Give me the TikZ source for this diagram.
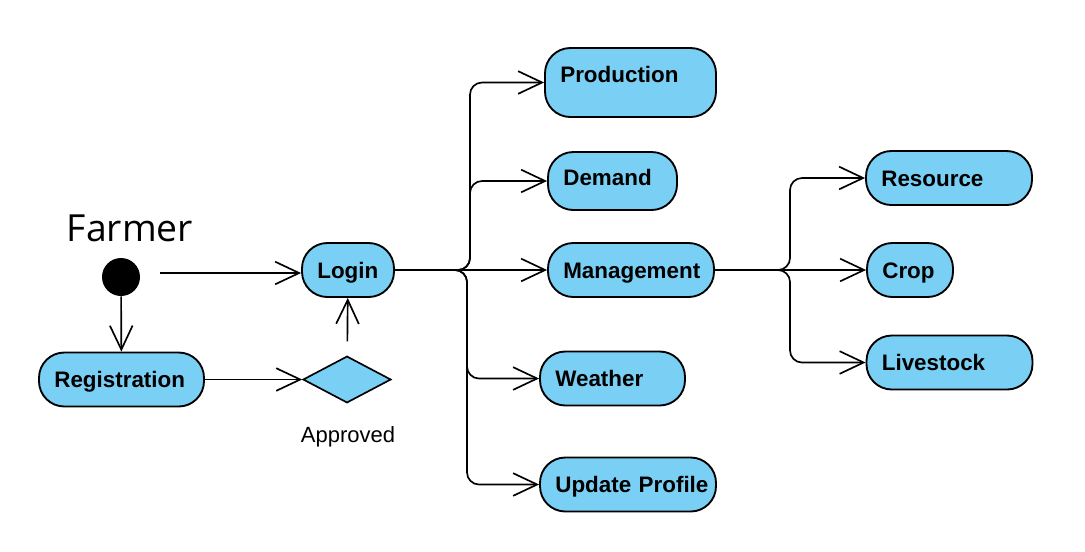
\documentclass[tikz,border=0pt]{standalone}
\usepackage{fontspec}
\setmainfont{Liberation Sans}
\newfontfamily\titlefont{Open Sans}
\usepackage{tikz}
\usetikzlibrary{arrows.meta,shapes.geometric,positioning,calc}
\definecolor{actblue}{RGB}{122,207,244}
\tikzset{
activity/.style={draw=black, line width=1.4pt, fill=actblue, rounded corners=19pt, font=\bfseries\fontsize{16.8}{18}\selectfont, align=left, inner xsep=11.5pt, inner ysep=0pt, text height=12pt, text depth=0pt, minimum height=40.5pt, text width=#1},
flow/.style={draw=black, line width=1.25pt, -{Straight Barb[length=18pt,width=17pt,line width=1.25pt]}},
branch/.style={flow, rounded corners=9pt}
}

\begin{document}
\begin{tikzpicture}[x=0.75pt,y=-0.75pt]
\useasboundingbox (0,0) rectangle (1085,551);
\node[font=\titlefont\fontsize{28}{30}\selectfont] (farmer) at (130,228) {Farmer};
\node[circle, fill=black, minimum size=28.5pt, inner sep=0pt] (initial) at (121,277) {};
\node[activity=46pt] (login) at (348,270) {Login};
\node[activity=100.75pt] (registration) at (121.5,379.5) {Registration};
\node[diamond, draw=black, line width=1.25pt, fill=actblue, aspect=1.87, minimum width=66pt, minimum height=35pt, inner sep=0pt] (approval) at (347,379.5) {};
\node[anchor=base, font=\fontsize{16.5}{18}\selectfont] (approved) at (348,442) {Approved};
\node[activity=105.25pt, minimum height=51.75pt, text depth=12pt] (production) at (630.5,82.5) {Production};
\node[activity=73.75pt, minimum height=43.5pt, text depth=6pt] (demand) at (612.5,181) {Demand};
\node[activity=101.5pt] (management) at (631,270) {\mbox{Management}};
\node[activity=85.75pt] (weather) at (612.5,378.5) {Weather};
\node[activity=109pt] (update) at (628,484.5) {\mbox{Update Profile}};
\node[activity=101.5pt] (resource) at (949,178) {Resource};
\node[activity=41.5pt] (crop) at (910,270) {Crop};
\node[activity=101.5pt] (livestock) at (949.5,362.5) {Livestock};
\coordinate (initout) at (160,273);
\coordinate (loginsplit) at (470,270);
\coordinate (loginsplitb) at (467,270);
\coordinate (mgmtsplit) at (790,270);
\draw[flow] (initout) -- (initout -| login.west);
\draw[flow] (initial) -- (registration);
\draw[flow] (registration) -- (approval);
\draw[flow, shorten <=10.5pt] (approval) -- (login);
\draw[branch] (login.east) -- (loginsplit) |- (production.west);
\draw[branch] (login.east) -- (loginsplit) |- (demand.west);
\draw[flow] (login) -- (management);
\draw[branch] (login.east) -- (loginsplitb) |- (weather.west);
\draw[branch] (login.east) -- (loginsplitb) |- (update.west);
\draw[branch] (management.east) -- (mgmtsplit) |- (resource.west);
\draw[flow] (management) -- (crop);
\draw[branch] (management.east) -- (mgmtsplit) |- (livestock.west);
\end{tikzpicture}
\end{document}
